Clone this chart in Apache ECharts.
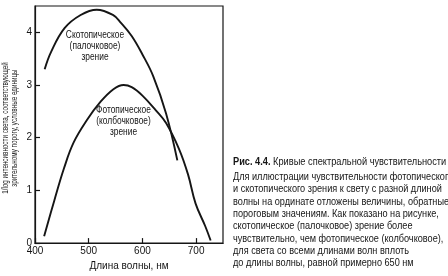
<!DOCTYPE html>
<html><head><meta charset="utf-8">
<script src="https://cdn.jsdelivr.net/npm/echarts@6/dist/echarts.min.js"></script>
<style>html,body{margin:0;padding:0;background:#fff}#c{width:448px;height:276px}</style>
</head><body><div id="c"></div>
<script>
const scotopicWl  = [418, 430, 455, 485, 515, 545, 560, 580, 600, 620, 644, 665];
const scotopicVal = [3.30, 3.63, 4.08, 4.33, 4.43, 4.33, 4.18, 3.93, 3.58, 3.17, 2.46, 1.57];
const photopicWl  = [417, 436, 454, 472, 497, 521, 546, 565, 580, 600, 625, 644, 668, 685, 699, 717, 727];
const photopicVal = [0.13, 0.81, 1.42, 1.91, 2.34, 2.67, 2.92, 3.00, 2.96, 2.80, 2.52, 2.28, 1.79, 1.30, 0.75, 0.32, 0.05];
const xTicks = [400, 500, 600, 700];
const yTicks = [0, 1, 2, 3, 4];
const xTitle = 'Длина волны, нм';
const yTitle = ['1/log интенсивности света, соответствующей', 'зрительному порогу, условные единицы'];
const scotLabel = ['Скотопическое', '(палочковое)', 'зрение'];
const photLabel = ['Фотопическое', '(колбочковое)', 'зрение'];
const captionBold = 'Рис. 4.4.';
const captionLines = [
  ' Кривые спектральной чувствительности',
  'Для иллюстрации чувствительности фотопического',
  'и скотопического зрения к свету с разной длиной',
  'волны на ординате отложены величины, обратные',
  'пороговым значениям. Как показано на рисунке,',
  'скотопическое (палочковое) зрение более',
  'чувствительно, чем фотопическое (колбочковое),',
  'для света со всеми длинами волн вплоть',
  'до длины волны, равной примерно 650 нм'
];

const FONT = 'Liberation Sans, Arial, sans-serif';
const INK = '#151515';
const zip = (a, b) => a.map((v, i) => [v, b[i]]);

const chart = echarts.init(document.getElementById('c'), null, {renderer: 'canvas'});

const graphics = [];
scotLabel.forEach((t, i) => graphics.push({type: 'text', x: 95, y: 35 + i * 11.2, scaleX: 0.84,
  style: {text: t, font: '10px ' + FONT, fill: INK, align: 'center', verticalAlign: 'middle'}}));
photLabel.forEach((t, i) => graphics.push({type: 'text', x: 123.5, y: 110 + i * 11.3, scaleX: 0.84,
  style: {text: t, font: '10px ' + FONT, fill: INK, align: 'center', verticalAlign: 'middle'}}));
yTitle.forEach((t, i) => graphics.push({type: 'text', x: 6 + i * 9, y: 128, rotation: Math.PI / 2, scaleX: 0.7,
  style: {text: t, font: '9px ' + FONT, fill: INK, align: 'center', verticalAlign: 'middle'}}));
const capY = [162.3, 176.7, 189.3, 202, 214.3, 226.6, 238.9, 251.3, 263.6];
graphics.push({type: 'text', x: 233, y: capY[0], scaleX: 0.88,
  style: {text: '{b|' + captionBold + '}{n|' + captionLines[0] + '}', verticalAlign: 'middle',
    rich: {b: {font: 'bold 10.5px ' + FONT, fill: INK}, n: {font: '10.5px ' + FONT, fill: INK}}}});
for (let i = 1; i < captionLines.length; i++) {
  graphics.push({type: 'text', x: 233, y: capY[i], scaleX: 0.87,
    style: {text: captionLines[i], font: '10.5px ' + FONT, fill: INK, verticalAlign: 'middle'}});
}

chart.setOption({
  animation: false,
  backgroundColor: '#fff',
  grid: {left: 35, top: 6, right: 225, bottom: 26, show: true, borderColor: INK, borderWidth: 1.2, backgroundColor: 'transparent'},
  xAxis: {
    type: 'value', min: 400, max: 750, interval: 100,
    name: xTitle, nameLocation: 'middle', nameGap: 17,
    nameTextStyle: {fontFamily: FONT, fontSize: 10, color: INK},
    axisLine: {lineStyle: {color: INK, width: 1.2}},
    axisTick: {inside: true, length: 5, lineStyle: {color: INK, width: 1.2}},
    axisLabel: {margin: 3, fontFamily: FONT, fontSize: 10, color: INK, showMaxLabel: false,
      formatter: v => xTicks.includes(v) ? String(v) : ''},
    splitLine: {show: false}
  },
  yAxis: {
    type: 'value', min: 0, max: 4.5, interval: 1,
    axisLine: {show: true, lineStyle: {color: INK, width: 1.2}},
    axisTick: {show: true, inside: true, length: 5, lineStyle: {color: INK, width: 1.2}},
    axisLabel: {margin: 3, fontFamily: FONT, fontSize: 10, color: INK, showMaxLabel: false,
      formatter: v => yTicks.includes(v) ? String(v) : ''},
    splitLine: {show: false}
  },
  series: [
    {type: 'line', data: zip(scotopicWl, scotopicVal), smooth: 0.4, showSymbol: false, lineStyle: {color: INK, width: 1.9}},
    {type: 'line', data: zip(photopicWl, photopicVal), smooth: 0.4, showSymbol: false, lineStyle: {color: INK, width: 1.9}}
  ],
  graphic: graphics
});
</script></body></html>
